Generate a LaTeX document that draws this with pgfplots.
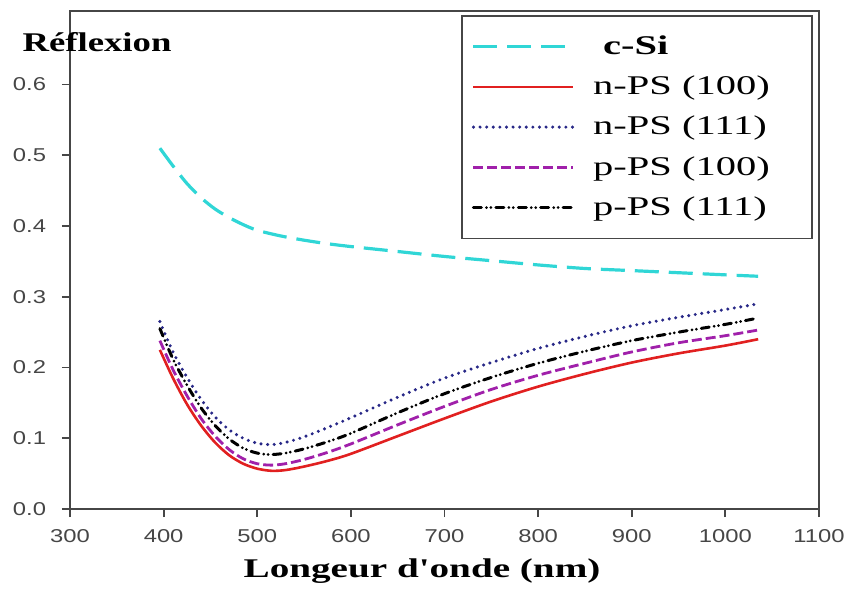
\documentclass[border=0pt]{standalone}
\usepackage{fontspec}
\setmainfont{Liberation Serif}
\setsansfont{Liberation Sans}
\usepackage{graphicx}
\usepackage{pgfplots}
\pgfplotsset{compat=1.18}
\definecolor{csi}{RGB}{48,214,214}
\definecolor{nred}{RGB}{225,32,32}
\definecolor{nblue}{RGB}{40,40,135}
\definecolor{pmag}{RGB}{160,32,170}
\definecolor{axgray}{RGB}{70,70,70}
\newcommand{\lt}[1]{\scalebox{1.5}[1]{#1}}
\begin{document}
\begin{tikzpicture}
\useasboundingbox (-35pt,-39.5pt) rectangle (389.5pt,254.5pt);
\begin{axis}[
  at={(0,0)}, anchor=south west,
  scale only axis, width=374.5pt, height=249pt,
  xmin=300, xmax=1100, ymin=0, ymax=0.704,
  xtick={300,400,500,600,700,800,900,1000,1100},
  ytick={0,0.1,0.2,0.3,0.4,0.5,0.6},
  /pgf/number format/set thousands separator={},
  yticklabel style={/pgf/number format/fixed,/pgf/number format/fixed zerofill,/pgf/number format/precision=1, xshift=-2.7pt},
  xticklabel style={yshift=-2.7pt},
  /pgf/number format/assume math mode=true,
  ticklabel style={font=\sffamily\fontsize{9.3}{11}\selectfont, text=axgray, xscale=1.28},
  tick align=outside, major tick length=4pt,
  xtick pos=bottom, ytick pos=left,
  tick style={axgray, line width=0.9pt},
  axis line style={axgray, line width=1pt},
  xlabel={Longeur d\textquotesingle onde (nm)},
  xlabel style={at={(rel axis cs:0.47,0)}, anchor=base, yshift=-34pt, xscale=1.45, font=\bfseries\fontsize{13.5}{16}\selectfont},
  ylabel={Réflexion},
  every axis y label/.style={at={(rel axis cs:0.036,0.938)}, anchor=center, xscale=1.36, font=\bfseries\fontsize{13.5}{16}\selectfont},
  legend image code/.code={\draw[#1] (0pt,0pt) -- (50pt,0pt); \path (57pt,0pt);},
  legend cell align=left,
  legend style={at={(rel axis cs:0.522,0.992)}, anchor=north west, draw=axgray, line width=0.8pt, fill=white,
    font=\fontsize{13.5}{16}\selectfont, row sep=5.25pt, inner xsep=5pt, inner ysep=8pt},
]
\addplot[csi, line width=1.6pt, dash pattern=on 12pt off 5pt, smooth] coordinates {
(396,0.510) (410,0.485) (425,0.460) (440,0.440) (455,0.424) (470,0.412) (485,0.402) (500,0.394)
(525,0.386) (550,0.380) (575,0.375) (600,0.371) (650,0.364) (700,0.357) (750,0.351) (800,0.345)
(850,0.340) (900,0.337) (950,0.334) (1000,0.331) (1035,0.329)};
\addlegendentry{\hspace{5pt}\lt{\textbf{c-Si}}}
\addplot[nred, line width=1.3pt, smooth] coordinates {
(396,0.225) (410,0.185) (425,0.148) (440,0.118) (455,0.094) (470,0.076) (485,0.064) (500,0.057)
(515,0.054) (530,0.055) (550,0.060) (575,0.068) (600,0.078) (650,0.103) (700,0.128) (750,0.152)
(800,0.173) (850,0.191) (900,0.207) (950,0.220) (1000,0.231) (1035,0.240)};
\addlegendentry{\makebox[102.5pt][l]{\lt{n-PS (100)}}}
\addplot[nblue, line width=1.7pt, line cap=round, dash pattern=on 0pt off 3.3pt, smooth] coordinates {
(396,0.265) (410,0.222) (425,0.186) (440,0.155) (455,0.130) (470,0.112) (485,0.100) (500,0.093)
(515,0.091) (530,0.094) (550,0.102) (575,0.115) (600,0.129) (650,0.158) (700,0.185) (750,0.207)
(800,0.227) (850,0.244) (900,0.259) (950,0.271) (1000,0.282) (1035,0.290)};
\addlegendentry{\lt{n-PS (111)}}
\addplot[pmag, line width=1.4pt, dash pattern=on 5pt off 2pt, smooth] coordinates {
(396,0.238) (410,0.197) (425,0.160) (440,0.128) (455,0.103) (470,0.084) (485,0.071) (500,0.064)
(515,0.062) (530,0.064) (550,0.070) (575,0.080) (600,0.092) (650,0.119) (700,0.145) (750,0.169)
(800,0.189) (850,0.206) (900,0.222) (950,0.235) (1000,0.245) (1035,0.253)};
\addlegendentry{\lt{p-PS (100)}}
\addplot[black, line width=1.5pt, line cap=round, dash pattern=on 4pt off 2.5pt on 0pt off 2.2pt on 0pt off 2.5pt, smooth] coordinates {
(396,0.255) (410,0.212) (425,0.175) (440,0.143) (455,0.118) (470,0.099) (485,0.086) (500,0.079)
(515,0.077) (530,0.079) (550,0.085) (575,0.095) (600,0.107) (650,0.136) (700,0.163) (750,0.186)
(800,0.206) (850,0.223) (900,0.238) (950,0.250) (1000,0.261) (1035,0.270)};
\addlegendentry{\lt{p-PS (111)}}
\end{axis}
\end{tikzpicture}
\end{document}
